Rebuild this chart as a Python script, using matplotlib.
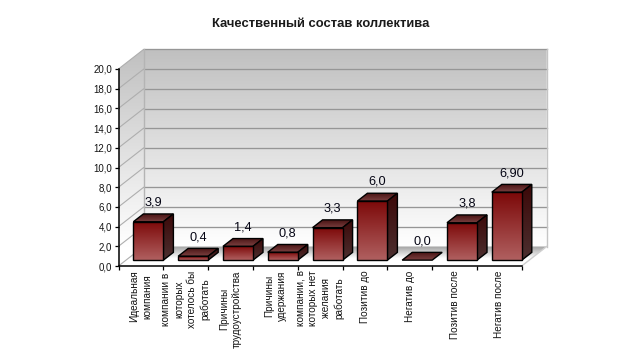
import numpy as np
import matplotlib
matplotlib.use("Agg")
import matplotlib.pyplot as plt
from matplotlib.colors import to_rgb
from matplotlib.patches import Polygon

plt.rcParams['font.family'] = ['Liberation Sans', 'DejaVu Sans']

# ---- data ----
title = "Качественный состав коллектива"
categories = ["Идеальная\nкомпания", "компании в\nкоторых\nхотелось бы\nработать",
              "Причины\nтрудоустройства", "Причины\nудержания",
              "компании, в\nкоторых нет\nжелания\nработать", "Позитив до",
              "Негатив до", "Позитив после", "Негатив после"]
values = [3.9, 0.4, 1.4, 0.8, 3.3, 6.0, 0.0, 3.8, 6.9]
value_labels = ["3,9", "0,4", "1,4", "0,8", "3,3", "6,0", "0,0", "3,8", "6,90"]
y_ticks = list(range(0, 22, 2))

# ---- layout (pixels) ----
W, H = 639, 364
L, R, B, T = 118.5, 521.7, 266.0, 69.0
fig = plt.figure(figsize=(W / 100, H / 100), dpi=100, facecolor='white')
ax = fig.add_axes([L / W, 1 - B / H, (R - L) / W, (B - T) / H])
xlim = (-0.5, len(values) - 0.5)
ylim = (0, 20)
px_x = (R - L) / len(values)
px_y = (B - T) / 20
DX, DY = 25 / px_x, 19.5 / px_y   # depth of the 3D box in data units
BAR_W = 30 / px_x
D0, D1 = 0.30, 0.70               # front/back depth of the bars


def P(x, y, d=0.0):
    return (x + d * DX, y + d * DY)


def grad(top, bottom, end=1.0, n=256):
    a, b = np.array(to_rgb(top)), np.array(to_rgb(bottom))
    t = np.clip(np.linspace(0, 1, n) / end, 0, 1)[:, None, None]
    return a * (1 - t) + b * t


def shaded(pts, top, bottom, z, edge=None, lw=1.0, end=1.0):
    """Polygon filled with a vertical gradient, outlined if an edge is given."""
    pts = np.array(pts)
    ext = (pts[:, 0].min(), pts[:, 0].max(), pts[:, 1].min(), pts[:, 1].max())
    im = ax.imshow(grad(top, bottom, end), extent=ext, aspect='auto', origin='upper',
                   zorder=z, interpolation='bilinear')
    im.set_clip_box(fig.bbox)
    im.set_clip_path(Polygon(pts, closed=True, transform=ax.transData))
    if edge:
        ax.add_patch(Polygon(pts, closed=True, facecolor='none', edgecolor=edge, lw=lw,
                             zorder=z + 0.001, clip_on=False, joinstyle='miter'))


x0, x1 = xlim
y0, y1 = ylim

# walls
wall = [P(x0, y0), P(x0, y1), P(x0, y1, 1), P(x1, y1, 1), P(x1, y0, 1), P(x0, y0, 1)]
shaded(wall, '#c0c0c0', '#ffffff', 1, end=0.91)

# floor
floor = [P(x0, y0), P(x0, y0, 1), P(x1, y0, 1), P(x1, y0)]
shaded(floor, '#a0a0a0', '#ffffff', 1.5, end=0.62)
ax.plot(*zip(P(x1, y0), P(x1, y0, 1)), color='#cfcfcf', lw=1, zorder=2, clip_on=False)

# grid lines on the walls
for t in y_ticks:
    ax.plot(*zip(P(x0, t), P(x0, t, 1)), color='#aeaeae', lw=0.8, zorder=2, clip_on=False)
    if t > 0:
        ax.plot(*zip(P(x0, t, 1), P(x1, t, 1)), color='#969696', lw=0.95, zorder=2, clip_on=False)
ax.plot(*zip(P(x0, y0, 1), P(x0, y1, 1)), color='#b4b4b4', lw=1, zorder=2, clip_on=False)
ax.plot(*zip(P(x1, y0, 1), P(x1, y1, 1)), color='#c4c4c4', lw=1, zorder=2, clip_on=False)

# bars
for i, (v, lab) in enumerate(zip(values, value_labels)):
    z = 3 + i * 0.01
    a, b = i - BAR_W / 2, i + BAR_W / 2
    top = [P(a, v, D0), P(a, v, D1), P(b, v, D1), P(b, v, D0)]
    shaded(top, '#4a1414', '#7a4040', z, edge='black')
    if v > 0:
        side = [P(b, 0, D0), P(b, v, D0), P(b, v, D1), P(b, 0, D1)]
        front = [P(a, 0, D0), P(a, v, D0), P(b, v, D0), P(b, 0, D0)]
        shaded(side, '#3c0808', '#4c3030', z + 0.002, edge='black')
        shaded(front, '#7c0808', '#b06060', z + 0.004, edge='black')
    ax.annotate(lab, xy=(i, v), xytext=(9, 18), textcoords='offset points',
                ha='center', va='center', fontsize=9.2, color='#050514',
                annotation_clip=False, zorder=6)

# axes
ax.set_xlim(xlim)
ax.set_ylim(ylim)
ax.set_facecolor('none')
for s in ('top', 'right'):
    ax.spines[s].set_visible(False)
for s in ('left', 'bottom'):
    ax.spines[s].set_linewidth(1.1)
    ax.spines[s].set_zorder(7)
ax.set_yticks(y_ticks)
ax.set_yticklabels([f"{t:.1f}".replace('.', ',') for t in y_ticks], fontsize=7.0, color='#141414')
ax.tick_params(axis='y', length=3, width=0.9, pad=1.5)
ax.set_xticks(np.arange(x0, x1 + 0.5))
ax.set_xticklabels([])
ax.tick_params(axis='x', which='major', length=3, width=0.9)
ax.set_xticks(np.arange(len(values)), minor=True)
ax.set_xticklabels(categories, minor=True, rotation=90, fontsize=7.2, color='#141414',
                   va='top', ha='center', linespacing=1.35, multialignment='center')
ax.tick_params(axis='x', which='minor', length=0, pad=3.2)

fig.text(320.5 / W, 1 - 24 / H, title, ha='center', va='center', fontsize=9.35,
         fontweight='bold', color='#1a1a1a')

fig.savefig('out.png', dpi=100, facecolor='white')
